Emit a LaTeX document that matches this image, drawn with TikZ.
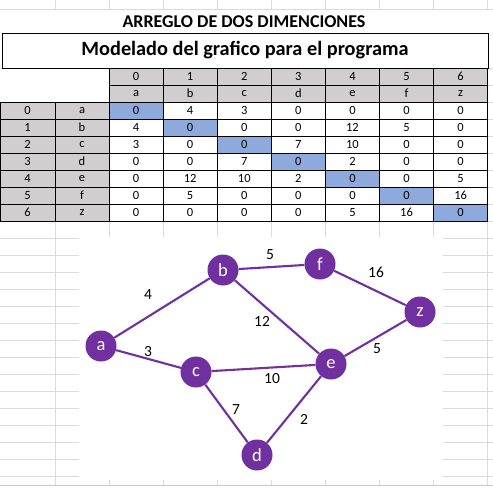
\documentclass[tikz,border=0pt]{standalone}
\usepackage{fontspec}
\setmainfont{Carlito}
\usetikzlibrary{positioning}

\definecolor{gridgray}{HTML}{DADADA}
\definecolor{headgray}{HTML}{D0CECE}
\definecolor{diagblue}{HTML}{8EA9DB}
\definecolor{vertpurple}{HTML}{7030A0}
\definecolor{barline}{HTML}{C3C8D1}

\begin{document}
\begin{tikzpicture}[
        x=1pt, y=-1pt,
        font=\fontsize{12.5}{13}\selectfont,
        gridline/.style={gridgray, line width=0.8pt},
        cell/.style={draw, line width=0.7pt, minimum width=54.1pt, minimum height=17pt, inner sep=0pt, fill=white},
        headcell/.style={cell, fill=headgray},
        diagcell/.style={cell, fill=diagblue},
        vertex/.style={circle, fill=vertpurple, text=white, minimum size=31pt, inner sep=0pt, font=\fontsize{18.5}{19}\selectfont},
        link/.style={vertpurple, line width=2.1pt},
        weight/.style={font=\fontsize{15.5}{16}\selectfont}
    ]
    \useasboundingbox (0,0) rectangle (493,488);

    % --- Sheet gridlines ---
    \draw[gridline] (0,9) -- (493,9);
    \foreach \k in {0,...,24}
        \draw[gridline] (0,68+17*\k) -- (493,68+17*\k);
    \foreach \gx in {55,109,163,217,271,325,379,433,487} {
        \draw[gridline] (\gx,0) -- (\gx,9);
        \draw[gridline] (\gx,68) -- (\gx,485);
    }
    \fill[white] (0,68.5) rectangle (108.5,101.5);

    % --- Titles ---
    \node[font=\bfseries\fontsize{18}{18}\selectfont] (title) at (244,21.5) {ARREGLO DE DOS DIMENCIONES};
    \node[draw, fill=white, line width=0.8pt, minimum width=486pt, minimum height=35pt, inner sep=0pt,
          font=\bfseries\fontsize{20.3}{21}\selectfont] (subtitle) at (245,50.5) {Modelado del grafico para el programa};

    % --- Header rows ---
    \foreach \lab [count=\c from 0] in {a,b,c,d,e,f,z} {
        \node[headcell] (hn\c) at ({136.05+54.1*\c},76.5) {\c};
        \node[headcell] (hl\c) at ({136.05+54.1*\c},93.5) {\lab};
    }

    % --- Matrix rows ---
    \foreach \lab/\vals [count=\r from 0] in {a/{0,4,3,0,0,0,0}, b/{4,0,0,0,12,5,0}, c/{3,0,0,7,10,0,0},
            d/{0,0,7,0,2,0,0}, e/{0,12,10,2,0,0,5}, f/{0,5,0,0,0,0,16}, z/{0,0,0,0,5,16,0}} {
        \node[headcell, minimum width=55pt] (rn\r) at (27.5,110.5+17*\r) {\r};
        \node[headcell, minimum width=54pt] (rl\r) at (82,110.5+17*\r) {\lab};
        \foreach \v [count=\c from 0] in \vals {
            \ifnum\c=\r\relax \def\cellsty{diagcell}\else \def\cellsty{cell}\fi
            \node[\cellsty] (m\r_\c) at ({136.05+54.1*\c},110.5+17*\r) {\v};
        }
    }

    % --- Chart area ---
    \fill[white] (79,237) rectangle (443,480);
    \draw[barline, line width=1.3pt] (0,485.5) -- (493,485.5);

    % Vertices
    \node[vertex] (a) at (101,346) {a};
    \node[vertex] (b) at (223,270) {b};
    \node[vertex] (f) at (320,264) {f};
    \node[vertex] (z) at (420,312) {z};
    \node[vertex] (c) at (196,372) {c};
    \node[vertex] (e) at (331,364) {e};
    \node[vertex] (d) at (257,455) {d};

    % Edges
    \draw[link] (a) -- (b);
    \draw[link] (a) -- (c);
    \draw[link] (b) -- (f);
    \draw[link] (b) -- (e);
    \draw[link] (f) -- (z);
    \draw[link] (z) -- (e);
    \draw[link] (c) -- (e);
    \draw[link] (c) -- (d);
    \draw[link] (d) -- (e);

    % Weights
    \node[weight] (w_ab) at (148,295) {4};
    \node[weight] (w_ac) at (148,352) {3};
    \node[weight] (w_bf) at (270,255) {5};
    \node[weight] (w_be) at (262,321) {12};
    \node[weight] (w_fz) at (376,272) {16};
    \node[weight] (w_ze) at (377,349) {5};
    \node[weight] (w_ce) at (272,379) {10};
    \node[weight] (w_cd) at (236,410) {7};
    \node[weight] (w_de) at (304,419) {2};

\end{tikzpicture}
\end{document}
